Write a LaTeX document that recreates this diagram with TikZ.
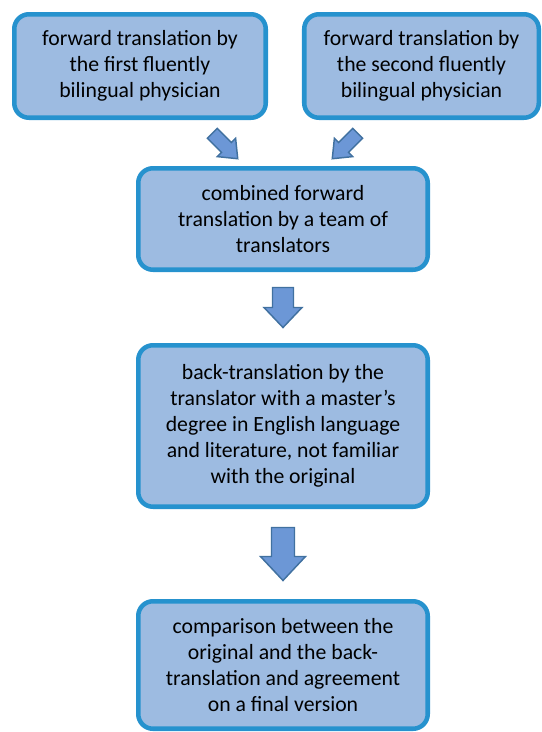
\documentclass[tikz,border=0pt]{standalone}
\usepackage{fontspec}
\setmainfont{Carlito}
\usetikzlibrary{calc}
\definecolor{boxfill}{RGB}{157,187,225}
\definecolor{boxline}{RGB}{38,146,206}
\definecolor{arrfill}{RGB}{108,151,214}
\definecolor{arrline}{RGB}{65,113,160}
\tikzset{
	flowbox/.style={draw=boxline, fill=boxfill, line width=3.4pt, rounded corners=11pt,
		align=center, inner sep=0pt, text=black, font=\fontsize{16.3}{19.5}\selectfont},
	% block arrow: length/head length/head width/shaft width, pointing down
	pics/blockarrow/.style args={#1/#2/#3/#4}{code={
			\draw [draw=arrline, fill=arrfill, line width=1.1pt, line join=miter]
			(-#4/2,#1/2) -- (#4/2,#1/2) -- (#4/2,-#1/2+#2) -- (#3/2,-#1/2+#2) -- (0,-#1/2)
			-- (-#3/2,-#1/2+#2) -- (-#4/2,-#1/2+#2) -- cycle ;
	}}
}

\begin{document}
\begin{tikzpicture}[x=0.75pt,y=0.75pt,yscale=-1,xscale=1]
	\useasboundingbox (0,0) rectangle (542,732);
	
	% Boxes
	\node [flowbox, minimum width=188.6pt, minimum height=77.6pt] (first) at (140,66)
	{forward translation by\\the first fluently\\bilingual physician};
	\node [flowbox, minimum width=175.9pt, minimum height=77.6pt] (second) at (421.5,66)
	{forward translation by\\the second fluently\\bilingual physician};
	\node [flowbox, minimum width=217.1pt, minimum height=76.1pt] (combined) at (283,219)
	{combined forward\\translation by a team of\\translators};
	\node [flowbox, minimum width=217.1pt, minimum height=121.1pt] (back) at (283,426)
	{back-translation by the\\translator with a master’s\\degree in English language\\and literature, not familiar\\with the original};
	\node [flowbox, minimum width=217.1pt, minimum height=95.6pt] (final) at (283,665)
	{comparison between the\\original and the back-\\translation and agreement\\on a final version};
	
	% Block arrows
	\pic [rotate=45] at (225,146) {blockarrow={36/16/26/14}};
	\pic [rotate=-45] at (345,146) {blockarrow={36/16/26/14}};
	\pic at ($(combined.south)!0.5!(back.north)$) {blockarrow={40/20/38/21}};
	\pic at ($(back.south)!0.5!(final.north)$) {blockarrow={53/24/45/23}};
	
\end{tikzpicture}
\end{document}
